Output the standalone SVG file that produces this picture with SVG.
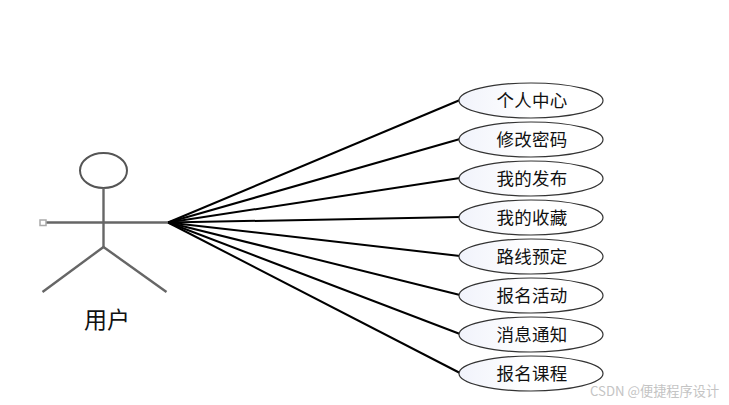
<svg xmlns="http://www.w3.org/2000/svg" width="729" height="405" viewBox="0 0 729 405">
<defs>
<linearGradient id="g" x1="0" y1="0" x2="1" y2="0"><stop offset="0" stop-color="#f1f3fb"/><stop offset="0.5" stop-color="#ffffff"/></linearGradient>
</defs>
<style>
.e{fill:url(#g);stroke:#333;stroke-width:1.2}
.t{font-family:"Noto Sans CJK SC","Liberation Serif",serif;font-size:17.5px;text-anchor:middle;fill:#111;letter-spacing:0.3px}
.c{stroke:#000;stroke-width:2;fill:none}
.a{stroke:#666;stroke-width:2.4;fill:none}
</style>
<rect width="729" height="405" fill="#fff"/>
<g id="connectors">
<line class="c" x1="168" y1="222.500" x2="460" y2="100"/>
<line class="c" x1="168" y1="222.500" x2="460" y2="139"/>
<line class="c" x1="168" y1="222.500" x2="460" y2="178"/>
<line class="c" x1="168" y1="222.500" x2="460" y2="217"/>
<line class="c" x1="168" y1="222.500" x2="460" y2="256"/>
<line class="c" x1="168" y1="222.500" x2="460" y2="295"/>
<line class="c" x1="168" y1="222.500" x2="460" y2="334"/>
<line class="c" x1="168" y1="222.500" x2="460" y2="373"/>
</g>
<g id="actor">
<ellipse cx="103.500" cy="170.500" rx="23.500" ry="17.500" fill="#fff" stroke="#555" stroke-width="2"/>
<line class="a" x1="103.500" y1="188" x2="103.500" y2="247"/>
<line class="a" x1="46" y1="222.500" x2="168" y2="222.500"/>
<line class="a" x1="103.500" y1="247" x2="42.500" y2="292"/>
<line class="a" x1="103.500" y1="247" x2="166.500" y2="292"/>
<rect x="40" y="220" width="6" height="5.500" fill="#fff" stroke="#aaa" stroke-width="1.500"/>
<text x="107" y="328" font-family="'Noto Sans CJK SC','Liberation Sans',sans-serif" font-size="23" text-anchor="middle" fill="#111">用户</text>
</g>
<g id="n1"><ellipse class="e" cx="531" cy="100.500" rx="72" ry="17.500"/><text class="t" x="532" y="106.500">个人中心</text></g>
<g id="n2"><ellipse class="e" cx="531" cy="139.500" rx="72" ry="17.500"/><text class="t" x="532" y="145.500">修改密码</text></g>
<g id="n3"><ellipse class="e" cx="531" cy="178.500" rx="72" ry="17.500"/><text class="t" x="532" y="184.500">我的发布</text></g>
<g id="n4"><ellipse class="e" cx="531" cy="217.500" rx="72" ry="17.500"/><text class="t" x="532" y="223.500">我的收藏</text></g>
<g id="n5"><ellipse class="e" cx="531" cy="256.500" rx="72" ry="17.500"/><text class="t" x="532" y="262.500">路线预定</text></g>
<g id="n6"><ellipse class="e" cx="531" cy="295.500" rx="72" ry="17.500"/><text class="t" x="532" y="301.500">报名活动</text></g>
<g id="n7"><ellipse class="e" cx="531" cy="334.500" rx="72" ry="17.500"/><text class="t" x="532" y="340.500">消息通知</text></g>
<g id="n8"><ellipse class="e" cx="531" cy="373.500" rx="72" ry="17.500"/><text class="t" x="532" y="379.500">报名课程</text></g>
<text x="590" y="396" font-family="'Noto Sans CJK SC','Liberation Sans',sans-serif" font-size="13.200" fill="#c4c4c4">CSDN @便捷程序设计</text>
</svg>
